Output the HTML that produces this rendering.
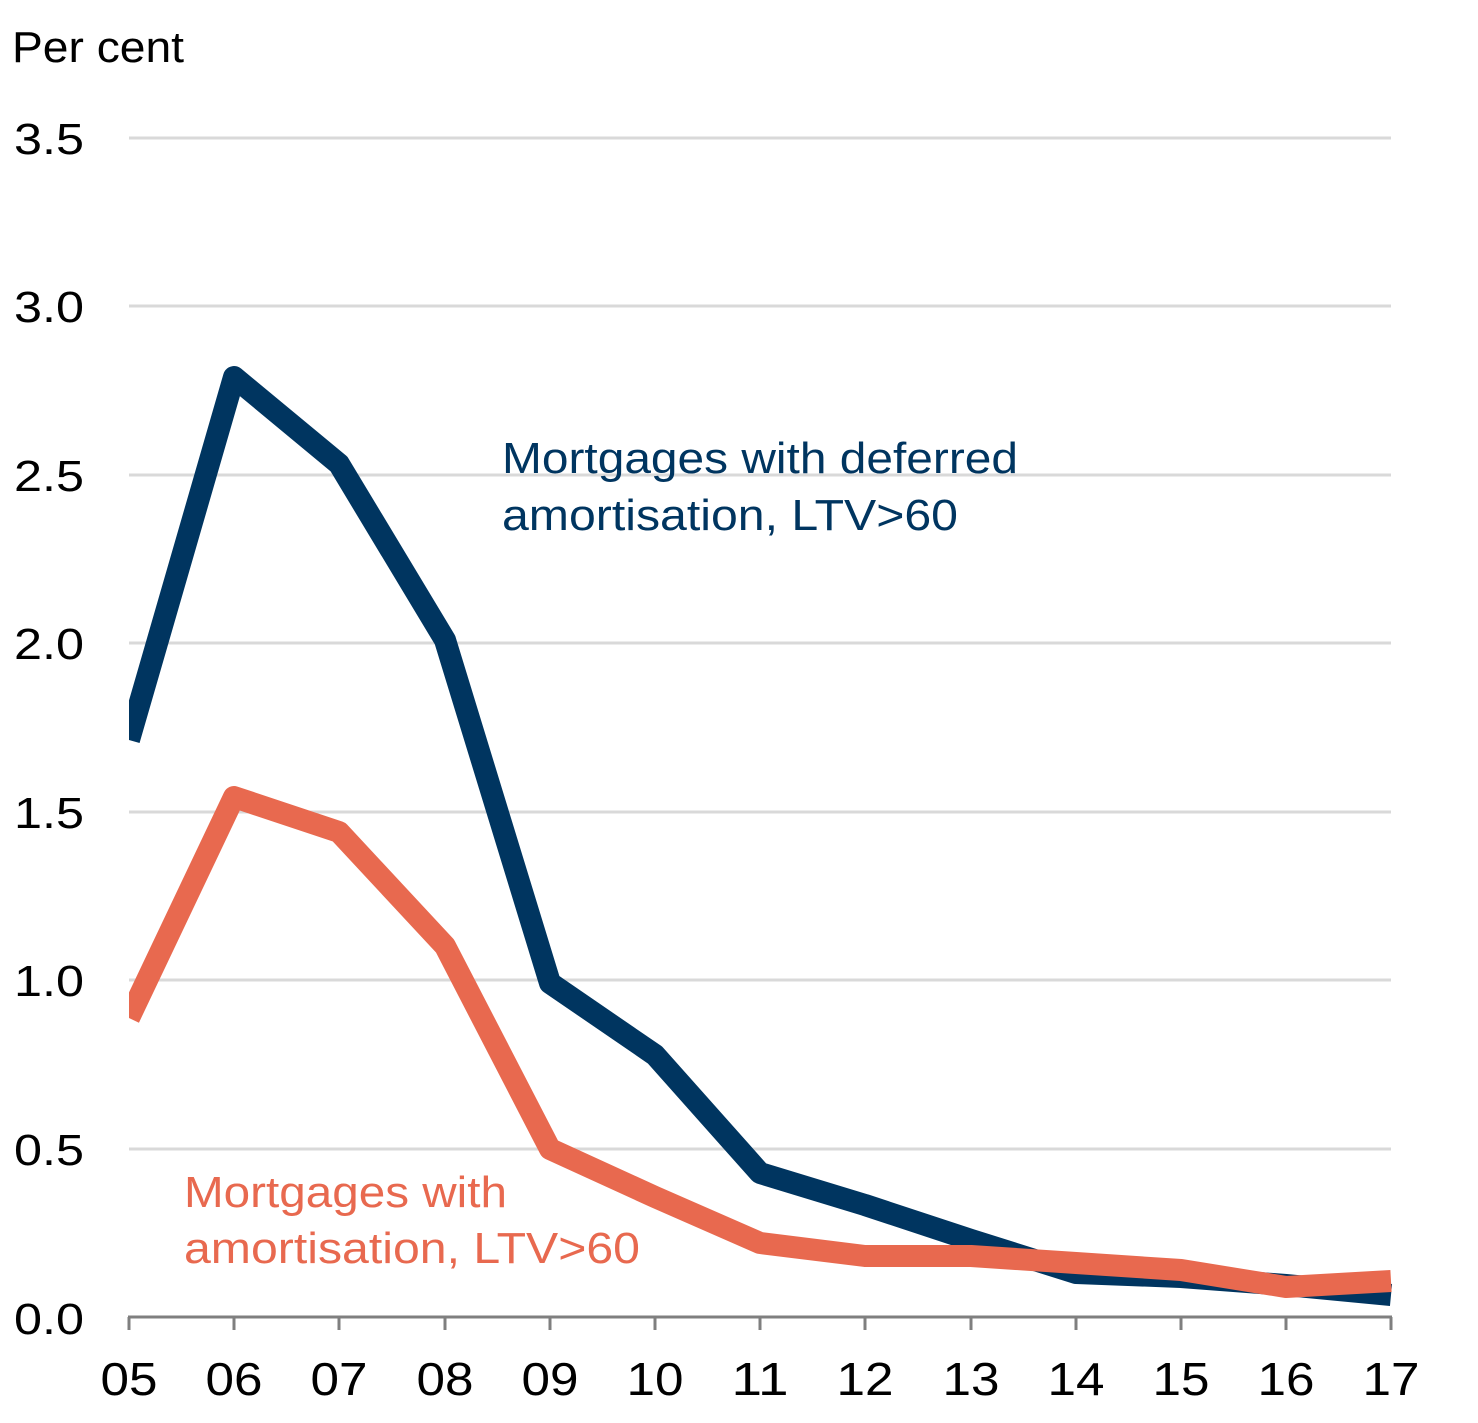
<!DOCTYPE html>
<html><head><meta charset="utf-8"><style>
html,body{margin:0;padding:0;background:#fff;}
svg text{font-family:"Liberation Sans",sans-serif;}
</style></head><body>
<svg width="1478" height="1418" viewBox="0 0 1478 1418" xmlns="http://www.w3.org/2000/svg">
<defs><clipPath id="c"><rect x="129" y="0" width="1300" height="1418"/></clipPath></defs>
<text x="12" y="62" font-size="44" fill="#000" textLength="172" lengthAdjust="spacingAndGlyphs">Per cent</text>
<g stroke="#d9d9d9" stroke-width="3">
<line x1="129" x2="1391" y1="138" y2="138"/>
<line x1="129" x2="1391" y1="306" y2="306"/>
<line x1="129" x2="1391" y1="475" y2="475"/>
<line x1="129" x2="1391" y1="643" y2="643"/>
<line x1="129" x2="1391" y1="812" y2="812"/>
<line x1="129" x2="1391" y1="980" y2="980"/>
<line x1="129" x2="1391" y1="1149" y2="1149"/>
</g>
<g font-size="44" fill="#000">
<text x="14" y="154" textLength="70" lengthAdjust="spacingAndGlyphs">3.5</text>
<text x="14" y="322" textLength="70" lengthAdjust="spacingAndGlyphs">3.0</text>
<text x="14" y="491" textLength="70" lengthAdjust="spacingAndGlyphs">2.5</text>
<text x="14" y="659" textLength="70" lengthAdjust="spacingAndGlyphs">2.0</text>
<text x="14" y="828" textLength="70" lengthAdjust="spacingAndGlyphs">1.5</text>
<text x="14" y="996" textLength="70" lengthAdjust="spacingAndGlyphs">1.0</text>
<text x="14" y="1165" textLength="70" lengthAdjust="spacingAndGlyphs">0.5</text>
<text x="14" y="1334" textLength="70" lengthAdjust="spacingAndGlyphs">0.0</text>
</g>
<g stroke="#7f7f7f" stroke-width="3">
<line x1="128" x2="1392" y1="1317" y2="1317"/>
<line x1="129" x2="129" y1="1317" y2="1330"/><line x1="234" x2="234" y1="1317" y2="1330"/>
<line x1="339" x2="339" y1="1317" y2="1330"/><line x1="445" x2="445" y1="1317" y2="1330"/>
<line x1="550" x2="550" y1="1317" y2="1330"/><line x1="655" x2="655" y1="1317" y2="1330"/>
<line x1="760" x2="760" y1="1317" y2="1330"/><line x1="865" x2="865" y1="1317" y2="1330"/>
<line x1="971" x2="971" y1="1317" y2="1330"/><line x1="1076" x2="1076" y1="1317" y2="1330"/>
<line x1="1181" x2="1181" y1="1317" y2="1330"/><line x1="1286" x2="1286" y1="1317" y2="1330"/>
<line x1="1391" x2="1391" y1="1317" y2="1330"/>
</g>
<g font-size="46" fill="#000" text-anchor="middle">
<text x="129" y="1395" textLength="57" lengthAdjust="spacingAndGlyphs">05</text>
<text x="234" y="1395" textLength="57" lengthAdjust="spacingAndGlyphs">06</text>
<text x="339" y="1395" textLength="57" lengthAdjust="spacingAndGlyphs">07</text>
<text x="445" y="1395" textLength="57" lengthAdjust="spacingAndGlyphs">08</text>
<text x="550" y="1395" textLength="57" lengthAdjust="spacingAndGlyphs">09</text>
<text x="655" y="1395" textLength="57" lengthAdjust="spacingAndGlyphs">10</text>
<text x="760" y="1395" textLength="57" lengthAdjust="spacingAndGlyphs">11</text>
<text x="865" y="1395" textLength="57" lengthAdjust="spacingAndGlyphs">12</text>
<text x="971" y="1395" textLength="57" lengthAdjust="spacingAndGlyphs">13</text>
<text x="1076" y="1395" textLength="57" lengthAdjust="spacingAndGlyphs">14</text>
<text x="1181" y="1395" textLength="57" lengthAdjust="spacingAndGlyphs">15</text>
<text x="1286" y="1395" textLength="57" lengthAdjust="spacingAndGlyphs">16</text>
<text x="1391" y="1395" textLength="57" lengthAdjust="spacingAndGlyphs">17</text>
</g>
<g clip-path="url(#c)" fill="none" stroke-width="22" stroke-linejoin="round">
<polyline stroke="#003560" points="129,740 234,377 339,464 445,640 550,983 655,1055 760,1173 865,1205 971,1240 1076,1273 1181,1277 1286,1285 1391,1295"/>
<polyline stroke="#E8694F" points="129,1018 234,797 339,832 445,946 550,1149 655,1197 760,1243 865,1256 971,1256 1076,1263 1181,1270 1286,1287 1391,1281"/>
</g>
<g font-size="44" fill="#003560">
<text x="502" y="473" textLength="516" lengthAdjust="spacingAndGlyphs">Mortgages with deferred</text>
<text x="502" y="530" textLength="456" lengthAdjust="spacingAndGlyphs">amortisation, LTV&gt;60</text>
</g>
<g font-size="44" fill="#E8694F">
<text x="184" y="1207" textLength="323" lengthAdjust="spacingAndGlyphs">Mortgages with</text>
<text x="184" y="1263" textLength="456" lengthAdjust="spacingAndGlyphs">amortisation, LTV&gt;60</text>
</g>
</svg>
</body></html>
